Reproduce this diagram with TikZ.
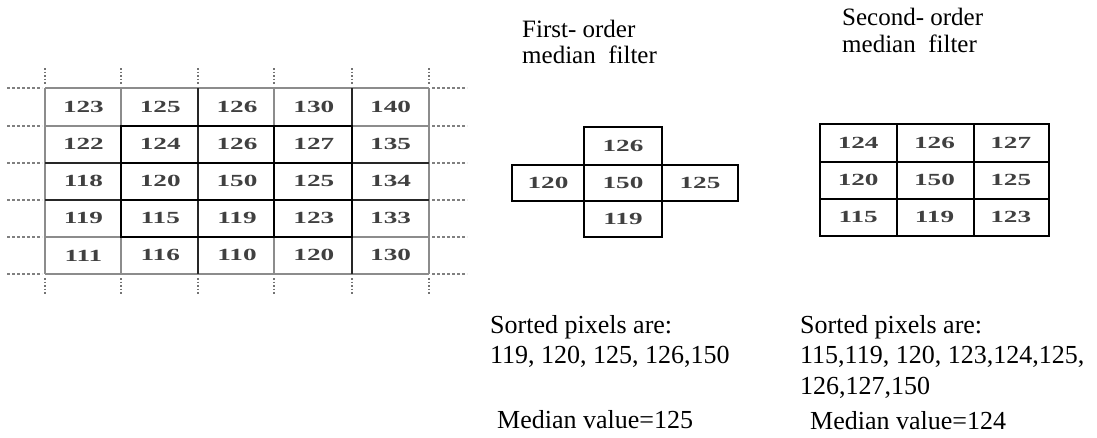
\documentclass[tikz,border=0pt]{standalone}
\usepackage{fontspec}
\usepackage{graphicx}
\setmainfont{Liberation Serif}
\tikzset{
  lbl/.style={anchor=base west, inner sep=0pt, font=\fontsize{26}{30}\selectfont},
  ttl/.style={anchor=base west, inner sep=0pt, font=\fontsize{25}{30}\selectfont},
  num/.style={inner sep=0pt, text=black!75, font=\fontsize{17}{20}\selectfont\bfseries},
  gridg/.style={draw=black!45, line width=2.2pt},
  gridk/.style={draw=black!85, line width=2.2pt},
  cellk/.style={draw=black, line width=2pt},
  dashl/.style={draw=black!50, line width=1.3pt, dash pattern=on 3pt off 2pt},
  dotl/.style={draw=black!55, line width=1.5pt, dash pattern=on 1.5pt off 2pt},
}
\newcommand{\wnum}[1]{\scalebox{1.6}[1]{#1}}
\begin{document}
\begin{tikzpicture}[x=1pt,y=-1pt]
\useasboundingbox (0,0) rectangle (1097,437);

% ---- big 5x5 grid ----
\foreach \y in {88,126,163,200,237,274} {
  \draw[dashl] (7,\y) -- (42,\y);
  \draw[dashl] (432,\y) -- (467,\y);
}
\foreach \x in {45,121,198,274,352,429} {
  \draw[dotl] (\x,68) -- (\x,85);
  \draw[dotl] (\x,278) -- (\x,294);
}
\foreach \x in {45,121,274,429} \draw[gridg] (\x,88) -- (\x,274);
\foreach \y in {88,126,237,274} \draw[gridg] (45,\y) -- (429,\y);
\foreach \y in {163,200} \draw[gridk] (45,\y) -- (429,\y);
\foreach \x in {198,352} \draw[gridk] (\x,88) -- (\x,274);
\draw[cellk] (121,126) rectangle (352,237);
\draw[cellk] (274,126) -- (274,237);
\draw[cellk] (121,163) -- (352,163);
\draw[cellk] (121,200) -- (352,200);

\foreach \row [count=\j] in {{123,125,126,130,140},{122,124,126,127,135},{118,120,150,125,134},{119,115,119,123,133},{111,116,110,120,130}} {
  \foreach \v [count=\i] in \row {
    \node[num] (g\j\i) at ({45+76.8*(\i-0.5)},{88+37.2*(\j-0.5)}) {\wnum{\v}};
  }
}

% ---- first-order (cross) ----
\draw[cellk] (584,127) rectangle (662,237);
\draw[cellk] (512,165) rectangle (738,201);
\node[num] (c1) at (623,146) {\wnum{126}};
\node[num] (c2) at (548,183) {\wnum{120}};
\node[num] (c3) at (623,183) {\wnum{150}};
\node[num] (c4) at (700,183) {\wnum{125}};
\node[num] (c5) at (623,219) {\wnum{119}};

% ---- second-order (3x3) ----
\draw[cellk] (820,124) rectangle (1049,236);
\draw[cellk] (897,124) -- (897,236);
\draw[cellk] (974,124) -- (974,236);
\draw[cellk] (820,162) -- (1049,162);
\draw[cellk] (820,199) -- (1049,199);
\foreach \row [count=\j] in {{124,126,127},{120,150,125},{115,119,123}} {
  \foreach \v [count=\i] in \row {
    \node[num] (s\j\i) at ({820+76.3*(\i-0.5)},{124+37.3*(\j-0.5)}) {\wnum{\v}};
  }
}

% ---- texts ----
\node[ttl] (t1a) at (522,37) {First- order};
\node[ttl] (t1b) at (522,63) {median~~filter};
\node[ttl] (t2a) at (842,25) {Second- order};
\node[ttl] (t2b) at (842,52) {median~~filter};

\node[lbl] (p1a) at (490,333) {Sorted pixels are:};
\node[lbl] (p1b) at (490,363) {119, 120, 125, 126,150};
\node[lbl] (m1) at (497,428) {Median value=125};

\node[lbl] (p2a) at (800,333) {Sorted pixels are:};
\node[lbl] (p2b) at (800,363) {115,119, 120, 123,124,125,};
\node[lbl] (p2c) at (800,394) {126,127,150};
\node[lbl] (m2) at (810,429) {Median value=124};
\end{tikzpicture}
\end{document}
